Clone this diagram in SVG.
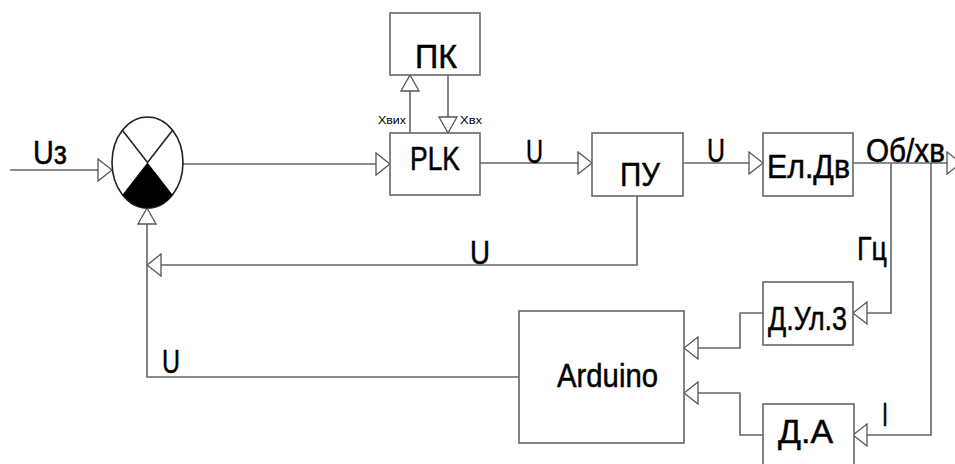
<svg xmlns="http://www.w3.org/2000/svg" width="955" height="464" viewBox="0 0 955 464">
<style>
.box{fill:#fff;stroke:#666;stroke-width:1.6}
.ln{fill:none;stroke:#666;stroke-width:1.6}
.t{font-family:"Liberation Sans",Arial,sans-serif;fill:#000;stroke:#000;stroke-width:0.5;font-size:34px}
.s{font-family:"Liberation Sans",Arial,sans-serif;fill:#000;font-size:11px}
</style>
<defs>
<marker id="ar" markerUnits="userSpaceOnUse" viewBox="-1 -1 16 24" refX="14" refY="11" markerWidth="16" markerHeight="24" orient="auto">
<path d="M0,0 L14,11 L0,22 Z" fill="#fff" stroke="#555" stroke-width="1.3"/>
</marker>
<marker id="as" markerUnits="userSpaceOnUse" viewBox="-1 -1 18 20" refX="16" refY="9" markerWidth="18" markerHeight="20" orient="auto">
<path d="M0,0 L16,9 L0,18 Z" fill="#fff" stroke="#555" stroke-width="1.3"/>
</marker>
</defs>
<rect width="955" height="464" fill="#fff"/>
<g id="connectors">
<path class="ln" d="M10,170 H112" marker-end="url(#ar)"/>
<path class="ln" d="M183,164 H390" marker-end="url(#ar)"/>
<path class="ln" d="M410,133 V75" marker-end="url(#as)"/>
<path class="ln" d="M448,75 V133" marker-end="url(#as)"/>
<path class="ln" d="M480,163 H592" marker-end="url(#ar)"/>
<path class="ln" d="M683,163 H763" marker-end="url(#ar)"/>
<path class="ln" d="M853,163 H961" marker-end="url(#ar)"/>
<path class="ln" d="M891,163 V313 H853" marker-end="url(#ar)"/>
<path class="ln" d="M931,163 V435 H853" marker-end="url(#ar)"/>
<path class="ln" d="M763,313 H740 V348 H684" marker-end="url(#ar)"/>
<path class="ln" d="M763,435 H740 V393 H684" marker-end="url(#ar)"/>
<path class="ln" d="M519,377 H147 V208" marker-end="url(#as)"/>
<path class="ln" d="M637,196 V265 H147" marker-end="url(#ar)"/>
</g>
<g id="sum">
<ellipse cx="147.5" cy="162.5" rx="35.5" ry="45.5" fill="#fff" stroke="#222" stroke-width="1.6"/>
<path d="M147.5,162.5 L172.6,194.7 A35.5,45.5 0 0 1 122.4,194.7 Z" fill="#000"/>
<path d="M122.4,130.3 L147.5,162.5 L172.6,130.3" fill="none" stroke="#222" stroke-width="1.6"/>
</g>
<g id="pk">
<rect class="box" x="390" y="13" width="90" height="62"/>
<text class="t" x="415" y="68" textLength="42" lengthAdjust="spacingAndGlyphs">ПК</text>
</g>
<g id="plk">
<rect class="box" x="390" y="133" width="90" height="62"/>
<text class="t" x="410" y="170" font-size="32" textLength="50" lengthAdjust="spacingAndGlyphs">PLK</text>
</g>
<g id="pu">
<rect class="box" x="592" y="133" width="91" height="63"/>
<text class="t" x="620" y="186" textLength="40" lengthAdjust="spacingAndGlyphs">ПУ</text>
</g>
<g id="eldv">
<rect class="box" x="763" y="133" width="90" height="63"/>
<text class="t" x="767" y="178" textLength="83" lengthAdjust="spacingAndGlyphs">Ел.Дв</text>
</g>
<g id="dul3">
<rect class="box" x="763" y="282" width="90" height="63"/>
<text class="t" x="768" y="330" font-size="36" textLength="79" lengthAdjust="spacingAndGlyphs">Д.Ул.3</text>
</g>
<g id="da">
<rect class="box" x="763" y="404" width="91" height="72"/>
<text class="t" x="778" y="443" font-size="36" textLength="55" lengthAdjust="spacingAndGlyphs">Д.А</text>
</g>
<g id="arduino">
<rect class="box" x="519" y="311" width="165" height="132"/>
<text class="t" x="557" y="387" textLength="101" lengthAdjust="spacingAndGlyphs">Arduino</text>
</g>
<g id="labels">
<text class="t" x="33" y="164" font-size="37" textLength="34" lengthAdjust="spacingAndGlyphs">Uз</text>
<text class="t" x="526" y="163" font-size="35" textLength="17" lengthAdjust="spacingAndGlyphs">U</text>
<text class="t" x="707" y="162" font-size="35" textLength="18" lengthAdjust="spacingAndGlyphs">U</text>
<text class="t" x="866" y="162" font-size="37" textLength="79" lengthAdjust="spacingAndGlyphs">Об/хв</text>
<text class="t" x="470" y="264" font-size="40" textLength="20" lengthAdjust="spacingAndGlyphs">U</text>
<text class="t" x="162" y="373" font-size="40" textLength="18" lengthAdjust="spacingAndGlyphs">U</text>
<text class="t" x="857" y="260" font-size="35" textLength="30" lengthAdjust="spacingAndGlyphs">Гц</text>
<text class="t" x="882" y="426" font-size="40" textLength="6" lengthAdjust="spacingAndGlyphs">I</text>
<text class="s" x="378" y="124" textLength="28" lengthAdjust="spacingAndGlyphs">Хвих</text>
<text class="s" x="460" y="124" textLength="22" lengthAdjust="spacingAndGlyphs">Хвх</text>
</g>
</svg>
